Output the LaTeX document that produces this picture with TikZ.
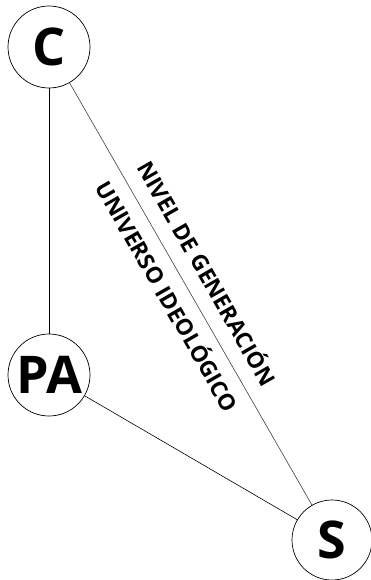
\documentclass[tikz,border=0pt]{standalone}
\usepackage{fontspec}
\setmainfont{Open Sans}
\usetikzlibrary{positioning}

\begin{document}
\begin{tikzpicture}[x=1pt, y=1pt, every node/.style={font=\bfseries}]
        \useasboundingbox (0,0) rectangle (371,-580);
        \tikzset{actor/.style={draw, circle, minimum size=82pt, inner sep=0pt, line width=0.7pt, font=\fontsize{52}{52}\bfseries\selectfont},
                 lbl/.style={font=\fontsize{22.5}{22.5}\bfseries\selectfont, inner sep=0pt}}
        \node (c) [actor] at (49,-47) {C};
        \node (pa) [actor] at (49,-375) {PA};
        \node (s) [actor, minimum size=80pt] at (332,-540) {S};

        \draw [line width=0.6pt] (c) -- (pa);
        \draw [line width=0.6pt] (pa) -- (s);
        \draw [line width=0.6pt, black!75] (c) -- (s)
            node [lbl, pos=0.48, sloped, above=15pt, black] {NIVEL DE GENERACIÓN}
            node [lbl, pos=0.48, sloped, below=9pt, black] {UNIVERSO IDEOLÓGICO};
    \end{tikzpicture}
\end{document}
